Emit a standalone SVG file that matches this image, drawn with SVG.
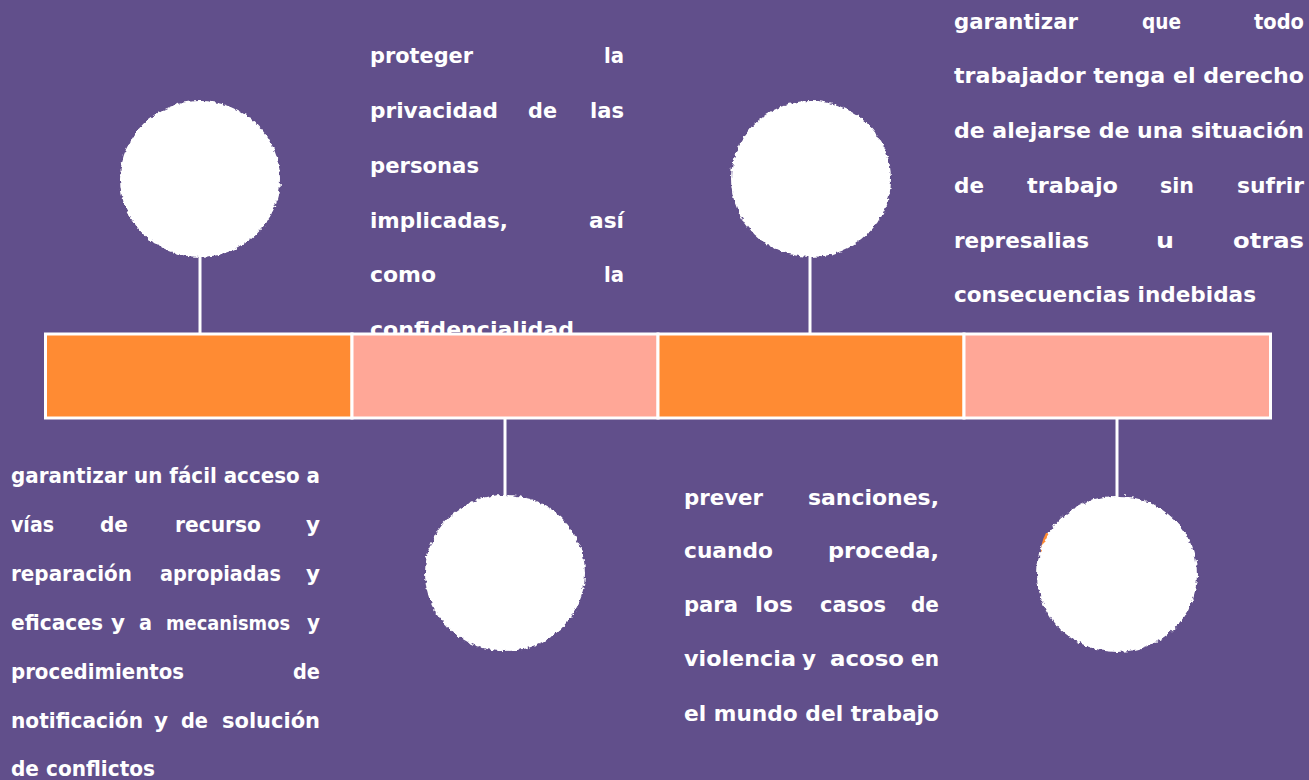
<svg xmlns="http://www.w3.org/2000/svg" width="1309" height="780" viewBox="0 0 1309 780">
<style>
.t{font-family:"DejaVu Sans","Liberation Sans",sans-serif;font-weight:bold;font-size:21.5px;fill:#ffffff}
.s{font-size:20px}
.ln{stroke:#ffffff;stroke-width:3;fill:none}
.c{fill:#ffffff;filter:url(#rough)}
.seg{stroke:#ffffff;stroke-width:3}
.or{fill:#FF8B33}
.pk{fill:#FFA797}
</style>
<defs>
<filter id="rough" x="-10%" y="-10%" width="120%" height="120%">
<feTurbulence type="fractalNoise" baseFrequency="0.25" numOctaves="2" seed="3" result="n"/>
<feDisplacementMap in="SourceGraphic" in2="n" scale="5" xChannelSelector="R" yChannelSelector="G"/>
</filter>
</defs>
<rect width="1309" height="780" fill="#614F8B"/>

<g id="text-top-middle">
<text class="t" lengthAdjust="spacingAndGlyphs" x="370" y="63" textLength="103">proteger</text><text class="t" lengthAdjust="spacingAndGlyphs" x="604" y="63" textLength="20">la</text>
<text class="t" lengthAdjust="spacingAndGlyphs" x="370" y="118" textLength="128">privacidad</text><text class="t" lengthAdjust="spacingAndGlyphs" x="528" y="118" textLength="29">de</text><text class="t" lengthAdjust="spacingAndGlyphs" x="590" y="118" textLength="34">las</text>
<text class="t" lengthAdjust="spacingAndGlyphs" x="370" y="173" textLength="109">personas</text>
<text class="t" lengthAdjust="spacingAndGlyphs" x="370" y="228" textLength="138">implicadas,</text><text class="t" lengthAdjust="spacingAndGlyphs" x="589" y="228" textLength="35">así</text>
<text class="t" lengthAdjust="spacingAndGlyphs" x="370" y="282" textLength="66">como</text><text class="t" lengthAdjust="spacingAndGlyphs" x="604" y="282" textLength="20">la</text>
<text class="t" lengthAdjust="spacingAndGlyphs" x="370" y="337" textLength="204">confidencialidad</text>
</g>

<g id="text-top-right">
<text class="t" lengthAdjust="spacingAndGlyphs" x="954" y="29" textLength="124">garantizar</text><text class="t" lengthAdjust="spacingAndGlyphs" x="1142" y="29" textLength="39">que</text><text class="t" lengthAdjust="spacingAndGlyphs" x="1254" y="29" textLength="50">todo</text>
<text class="t" lengthAdjust="spacingAndGlyphs" x="954" y="83" textLength="350">trabajador tenga el derecho</text>
<text class="t" lengthAdjust="spacingAndGlyphs" x="954" y="138" textLength="350">de alejarse de una situación</text>
<text class="t" lengthAdjust="spacingAndGlyphs" x="954" y="193" textLength="30">de</text><text class="t" lengthAdjust="spacingAndGlyphs" x="1027" y="193" textLength="91">trabajo</text><text class="t" lengthAdjust="spacingAndGlyphs" x="1160" y="193" textLength="34">sin</text><text class="t" lengthAdjust="spacingAndGlyphs" x="1237" y="193" textLength="67">sufrir</text>
<text class="t" lengthAdjust="spacingAndGlyphs" x="954" y="248" textLength="135">represalias</text><text class="t" lengthAdjust="spacingAndGlyphs" x="1156" y="248" textLength="18">u</text><text class="t" lengthAdjust="spacingAndGlyphs" x="1233" y="248" textLength="71">otras</text>
<text class="t" lengthAdjust="spacingAndGlyphs" x="954" y="302" textLength="302">consecuencias indebidas</text>
</g>

<g id="text-bottom-left">
<text class="t" lengthAdjust="spacingAndGlyphs" x="11" y="483" textLength="309">garantizar un fácil acceso a</text>
<text class="t" lengthAdjust="spacingAndGlyphs" x="11" y="532" textLength="43">vías</text><text class="t" lengthAdjust="spacingAndGlyphs" x="100" y="532" textLength="28">de</text><text class="t" lengthAdjust="spacingAndGlyphs" x="175" y="532" textLength="86">recurso</text><text class="t" lengthAdjust="spacingAndGlyphs" x="306" y="532" textLength="14">y</text>
<text class="t" lengthAdjust="spacingAndGlyphs" x="11" y="581" textLength="121">reparación</text><text class="t" lengthAdjust="spacingAndGlyphs" x="160" y="581" textLength="121">apropiadas</text><text class="t" lengthAdjust="spacingAndGlyphs" x="306" y="581" textLength="14">y</text>
<text class="t" lengthAdjust="spacingAndGlyphs" x="11" y="630" textLength="92">eficaces</text><text class="t" lengthAdjust="spacingAndGlyphs" x="111" y="630" textLength="14">y</text><text class="t" lengthAdjust="spacingAndGlyphs" x="139" y="630" textLength="13">a</text><text class="t s" lengthAdjust="spacingAndGlyphs" x="166" y="630" textLength="124">mecanismos</text><text class="t" lengthAdjust="spacingAndGlyphs" x="307" y="630" textLength="13">y</text>
<text class="t" lengthAdjust="spacingAndGlyphs" x="11" y="679" textLength="173">procedimientos</text><text class="t" lengthAdjust="spacingAndGlyphs" x="293" y="679" textLength="27">de</text>
<text class="t" lengthAdjust="spacingAndGlyphs" x="11" y="728" textLength="132">notificación</text><text class="t" lengthAdjust="spacingAndGlyphs" x="154" y="728" textLength="14">y</text><text class="t" lengthAdjust="spacingAndGlyphs" x="181" y="728" textLength="27">de</text><text class="t" lengthAdjust="spacingAndGlyphs" x="222" y="728" textLength="98">solución</text>
<text class="t" lengthAdjust="spacingAndGlyphs" x="11" y="776" textLength="144">de conflictos</text>
</g>

<g id="text-bottom-center">
<text class="t" lengthAdjust="spacingAndGlyphs" x="684" y="505" textLength="79">prever</text><text class="t" lengthAdjust="spacingAndGlyphs" x="808" y="505" textLength="131">sanciones,</text>
<text class="t" lengthAdjust="spacingAndGlyphs" x="684" y="558" textLength="89">cuando</text><text class="t" lengthAdjust="spacingAndGlyphs" x="828" y="558" textLength="111">proceda,</text>
<text class="t" lengthAdjust="spacingAndGlyphs" x="684" y="612" textLength="54">para</text><text class="t" lengthAdjust="spacingAndGlyphs" x="755" y="612" textLength="38">los</text><text class="t" lengthAdjust="spacingAndGlyphs" x="820" y="612" textLength="66">casos</text><text class="t" lengthAdjust="spacingAndGlyphs" x="911" y="612" textLength="28">de</text>
<text class="t" lengthAdjust="spacingAndGlyphs" x="684" y="666" textLength="112">violencia</text><text class="t" lengthAdjust="spacingAndGlyphs" x="802" y="666" textLength="14">y</text><text class="t" lengthAdjust="spacingAndGlyphs" x="830" y="666" textLength="74">acoso</text><text class="t" lengthAdjust="spacingAndGlyphs" x="911" y="666" textLength="28">en</text>
<text class="t" lengthAdjust="spacingAndGlyphs" x="684" y="721" textLength="255">el mundo del trabajo</text>
</g>

<g id="connectors">
<line class="ln" x1="200" y1="250" x2="200" y2="334"/>
<line class="ln" x1="810" y1="250" x2="810" y2="334"/>
<line class="ln" x1="505" y1="417" x2="505" y2="500"/>
<line class="ln" x1="1117" y1="417" x2="1117" y2="502"/>
</g>

<g id="bar">
<rect id="seg1" class="or seg" x="45.5" y="334" width="306.5" height="84"/>
<rect id="seg2" class="pk seg" x="352" y="334" width="306" height="84"/>
<rect id="seg3" class="or seg" x="658" y="334" width="306" height="84"/>
<rect id="seg4" class="pk seg" x="964" y="334" width="306.5" height="84"/>
</g>

<g id="circle1"><ellipse class="c" cx="200" cy="179" rx="80" ry="78"/></g>
<g id="circle2"><ellipse class="c" cx="811" cy="179" rx="80" ry="78"/></g>
<g id="circle3"><ellipse class="c" cx="505" cy="573" rx="80" ry="78"/></g>
<g id="circle4">
<path d="M1046,533 Q1040,544 1041,556 L1050,556 L1050,533 Z" fill="#FF8B33"/>
<ellipse class="c" cx="1117" cy="574" rx="80" ry="78"/>
</g>
</svg>
